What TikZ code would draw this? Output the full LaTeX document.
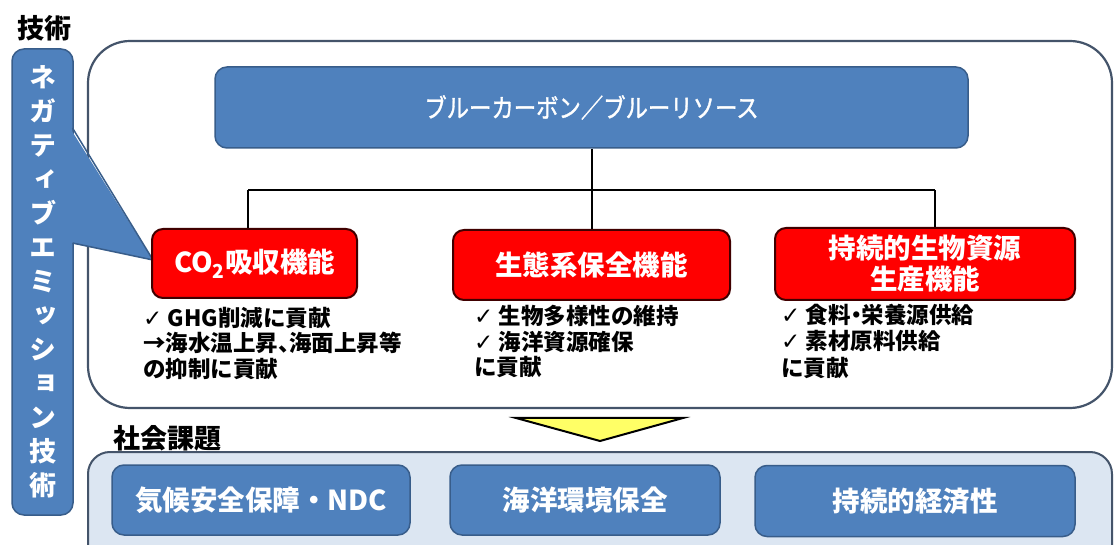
\documentclass[tikz,border=0pt]{standalone}
\usepackage{fontspec}
\setmainfont{Noto Sans CJK JP}
\newfontfamily\vertjp{Noto Sans CJK JP}[RawFeature=+vert]
\newfontfamily\narrowjp{Noto Sans CJK JP}[FakeStretch=0.86, FakeBold=1.2]
\newfontfamily\propjp{Noto Sans CJK JP}[RawFeature=+palt]
\newfontfamily\symfont{DejaVu Sans}
\definecolor{bluefill}{RGB}{79, 129, 189}
\definecolor{blueline}{RGB}{56, 93, 138}
\definecolor{frameline}{RGB}{68, 84, 106}
\definecolor{bandfill}{RGB}{220, 230, 242}
\definecolor{redfill}{RGB}{255, 0, 0}
\definecolor{yellowfill}{RGB}{255, 255, 102}
\newcommand{\fsz}[2]{\fontsize{#1}{#2}\selectfont}
\newcommand{\chk}{{\symfont\fsz{23}{25}✓}\ }

\begin{document}
\begin{tikzpicture}[x=1pt, y=-1pt,
    bluebox/.style={rectangle, rounded corners=12pt, draw=blueline, line width=1.5pt,
                    fill=bluefill, text=white, align=center, inner sep=0pt},
    redbox/.style={rectangle, rounded corners=11pt, draw=black!75!red, line width=2pt,
                   fill=redfill, text=white, align=center, inner sep=0pt,
                   font=\fsz{27.5}{31}\bfseries},
    note/.style={anchor=north west, align=left, inner sep=0pt, font=\fsz{22.5}{25.5}\bfseries},
    lbl/.style={inner sep=0pt, font=\fsz{27}{28}\bfseries},
    conn/.style={line width=2pt, black}]

    \useasboundingbox (0,0) rectangle (1120,545);
    \clip (0,0) rectangle (1120,545);
    \fill[white] (0,0) rectangle (1120,545);

    % Frames
    \draw[frameline, line width=2.2pt, fill=white, rounded corners=42pt] (88,41) rectangle (1112,408);
    \draw[frameline, line width=2pt, fill=bandfill, rounded corners=22pt] (88,452) rectangle (1112,580);

    % Technology column
    \node[lbl] (techlbl) at (44,28) {技術};
    \node[bluebox, minimum width=61pt, minimum height=466pt, font=\fsz{27}{34}\bfseries\vertjp]
        (negbox) at (42.5,282) {ネ\\ガ\\テ\\ィ\\ブ\\エ\\ミ\\ッ\\シ\\ョ\\ン\\技\\術};
    \fill[bluefill] (70,128) -- (153,260) -- (70,243) -- cycle;
    \draw[blueline, line width=1.5pt] (72.5,128) -- (153,260) -- (72.5,243);

    % Components
    \node[bluebox, minimum width=753pt, minimum height=81pt, font=\fsz{26}{28}\narrowjp]
        (blue) at (591.5,107.5) {ブルーカーボン／ブルーリソース};
    \node[redbox, minimum width=205pt, minimum height=69pt] (co2) at (254.5,263.5) {CO\textsubscript{2}吸収機能};
    \node[redbox, minimum width=277pt, minimum height=70pt] (ecol) at (591.5,265) {生態系保全機能};
    \node[redbox, minimum width=300pt, minimum height=72pt] (prod) at (925,264) {持続的生物資源\\生産機能};

    % Tree
    \coordinate (busL) at (248,190);
    \coordinate (busM) at (591.5,190);
    \coordinate (busR) at (935,190);
    \draw[conn] (blue.south) -- (busM);
    \draw[conn] (busL) -- (busR);
    \draw[conn] (busL) -- (busL |- co2.north);
    \draw[conn] (busM) -- (ecol.north);
    \draw[conn] (busR) -- (busR |- prod.north);

    % Effects
    \node[note] (co2note) at (143,307) {\chk GHG削減に貢献\\{\propjp →海水温上昇、海面上昇等}\\の抑制に貢献};
    \node[note] (ecolnote) at (474,305) {\chk 生物多様性の維持\\\chk 海洋資源確保\\に貢献};
    \node[note] (prodnote) at (781,304) {\chk 食料{\propjp ・}栄養源供給\\\chk 素材原料供給\\[2pt]に貢献};

    % Social issues
    \draw[black, line width=2pt, fill=yellowfill] (516,418) -- (683,418) -- (600,441) -- cycle;
    \node[lbl] (issuelbl) at (167,438) {社会課題};
    \node[bluebox, minimum width=298pt, minimum height=70pt, font=\fsz{27.5}{30}\bfseries]
        (climate) at (261,500) {気候安全保障・NDC};
    \node[bluebox, minimum width=270pt, minimum height=70pt, font=\fsz{27.5}{30}\bfseries]
        (ocean) at (585,500) {海洋環境保全};
    \node[bluebox, minimum width=320pt, minimum height=71pt, font=\fsz{27.5}{30}\bfseries]
        (econ) at (915,501) {持続的経済性};
\end{tikzpicture}
\end{document}
